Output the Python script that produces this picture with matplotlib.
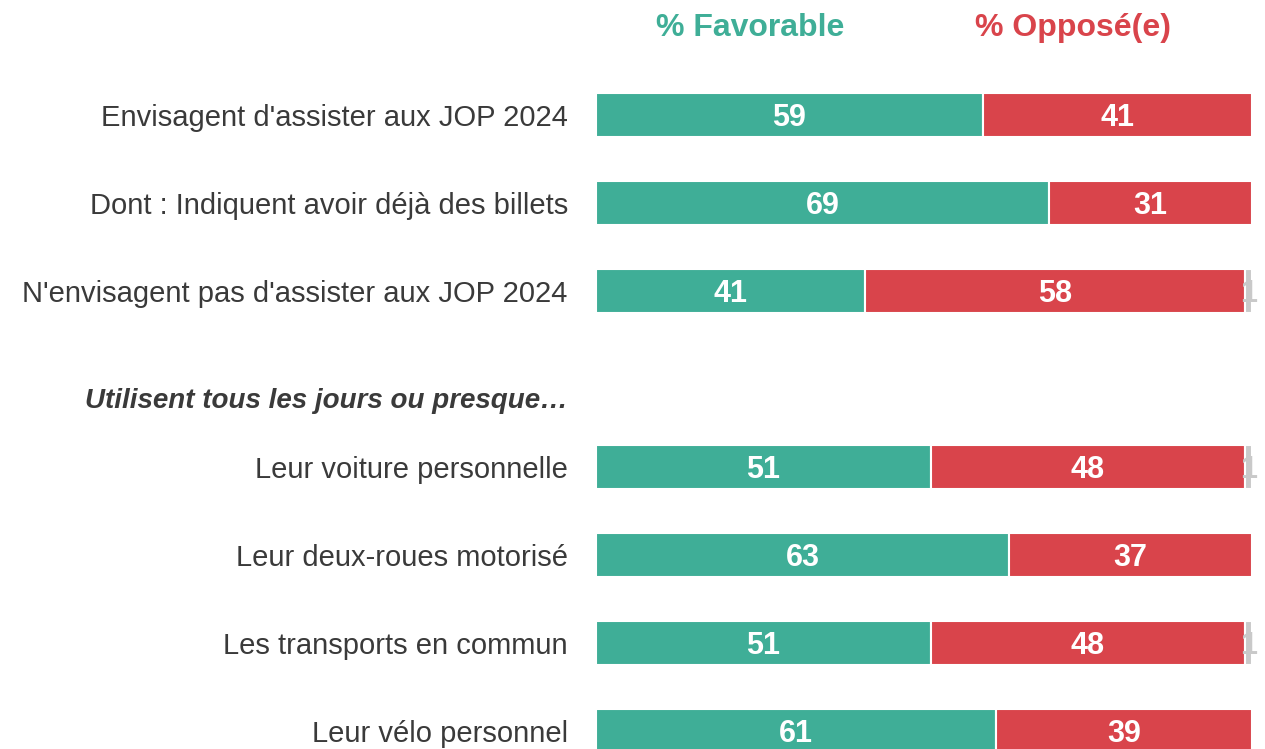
import matplotlib
matplotlib.use("Agg")
import matplotlib.pyplot as plt

plt.rcParams['font.family'] = ['Liberation Sans', 'DejaVu Sans']

# Données
labels = ["Envisagent d'assister aux JOP 2024",
          "Dont : Indiquent avoir déjà des billets",
          "N'envisagent pas d'assister aux JOP 2024",
          "Leur voiture personnelle",
          "Leur deux-roues motorisé",
          "Les transports en commun",
          "Leur vélo personnel"]
rows = [0, 1, 2, 4, 5, 6, 7]
favorable = [59, 69, 41, 51, 63, 51, 61]
oppose = [41, 31, 58, 48, 37, 48, 39]
nsp = [0, 0, 1, 1, 0, 1, 0]
section_label = "Utilisent tous les jours ou presque…"

green = "#3fae97"
red = "#d9444b"
grey = "#c9c9c9"
text_col = "#3a3a3a"

W, H = 1265, 749
fig = plt.figure(figsize=(W / 100, H / 100), dpi=100)
x0, x1 = 596, 1252
ax = fig.add_axes([x0 / W, 0, (x1 - x0) / W, 1])
ax.set_xlim(0, 100)
# ligne i -> pixel 115 + 88*i
ax.set_ylim((H - 115) / 88, -115 / 88)
ax.axis('off')


def base(fs):
    # décalage centre -> ligne de base (unités de données)
    return 0.36 * fs * 100 / 72 / 88


for r, f, o, n in zip(rows, favorable, oppose, nsp):
    ax.barh(r, f, height=0.5, color=green, edgecolor='white', linewidth=1.5)
    ax.barh(r, o, left=f, height=0.5, color=red, edgecolor='white', linewidth=1.5)
    ax.text(f / 2, r + base(22), str(f), ha='center', va='baseline', color='white',
            fontsize=22, fontweight='bold')
    ax.text(f + o / 2, r + base(22), str(o), ha='center', va='baseline', color='white',
            fontsize=22, fontweight='bold')
    if n:
        ax.barh(r, n, left=f + o, height=0.5, color=grey, edgecolor='white', linewidth=1.5)
        ax.text(f + o + n / 2, r + base(22), str(n), ha='center', va='baseline', color=grey,
                fontsize=22, fontweight='bold', clip_on=False)

for r, lab in zip(rows, labels):
    ax.text(-4.3, r + base(21), lab, ha='right', va='baseline', color=text_col, fontsize=21)

ax.text(-4.3, 3.216 + base(20), section_label, ha='right', va='baseline', color=text_col,
        fontsize=20, fontweight='bold', style='italic')

fig.text(750 / W, 1 - 36 / H, "% Favorable", ha='center', va='baseline',
         color=green, fontsize=23, fontweight='bold')
fig.text(1073 / W, 1 - 36 / H, "% Opposé(e)", ha='center', va='baseline',
         color=red, fontsize=23, fontweight='bold')

fig.savefig("out.png", dpi=100)
